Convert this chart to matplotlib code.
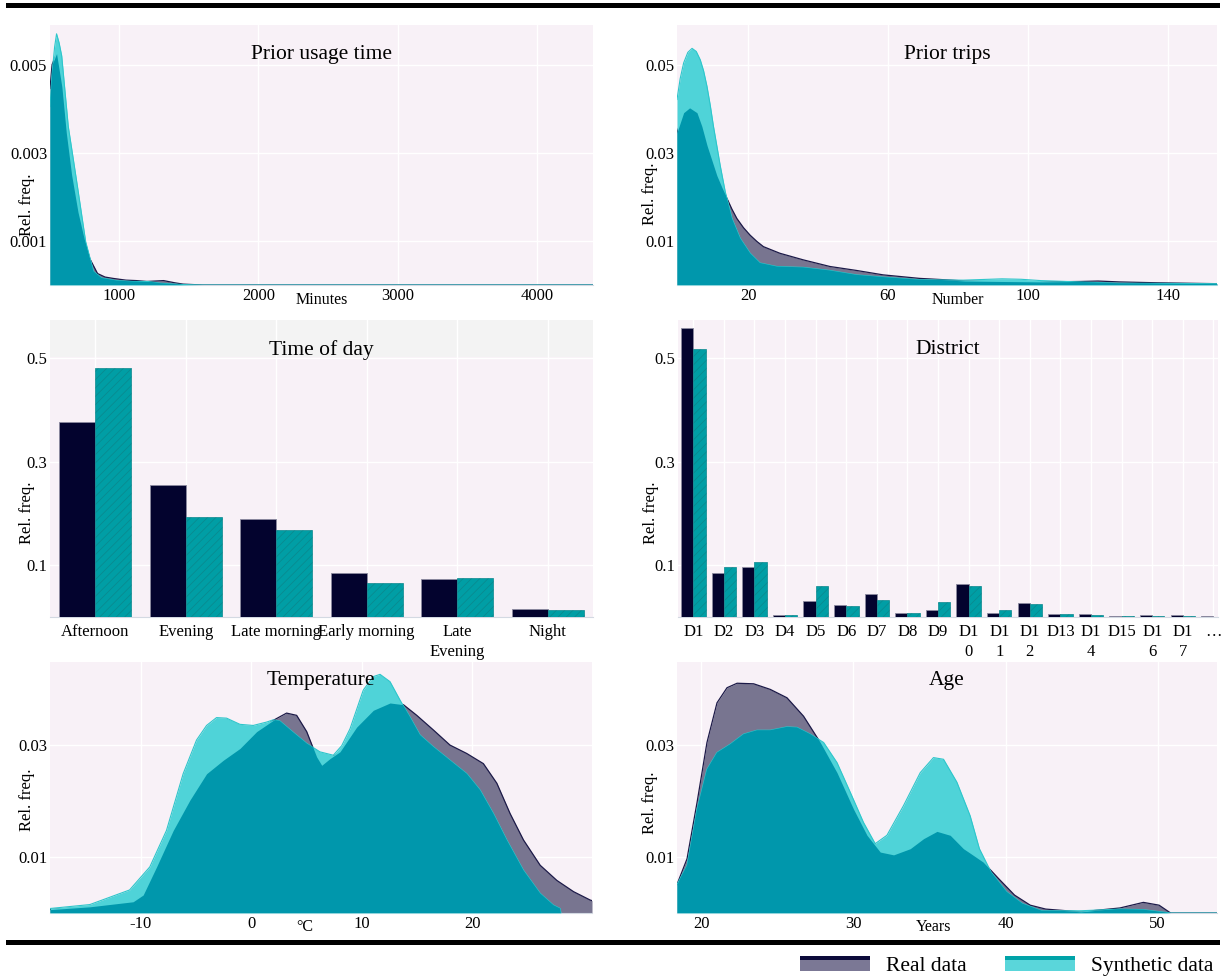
import numpy as np
import matplotlib
matplotlib.use("Agg")
import matplotlib.pyplot as plt
from matplotlib.patches import Patch, Rectangle
from matplotlib.legend_handler import HandlerBase
from matplotlib.lines import Line2D

plt.rcParams["font.family"] = ["Liberation Serif", "DejaVu Serif"]
plt.rcParams["hatch.linewidth"] = 0.5

# ---- prior usage time (minutes) ----
usage_x_real = [505, 520, 552, 590, 622, 660, 706, 750, 790, 846, 900, 957, 1050, 1124,
                1200, 1320, 1400, 1459, 1600, 4400]
usage_y_real = [0.00446, 0.0050, 0.00525, 0.0045, 0.00345, 0.0025, 0.00165, 0.00105, 0.0006,
                0.00026, 0.00018, 0.00015, 0.00011, 0.0001, 0.00008, 0.0001, 0.00005, 0.00002,
                0.0, 0.0]
usage_x_syn = [505, 520, 538, 552, 570, 589, 636, 670, 706, 761, 817, 874, 985, 1100, 1208,
               1300, 1459, 1600, 4400]
usage_y_syn = [0.00405, 0.0048, 0.0054, 0.0057, 0.0055, 0.0052, 0.0036, 0.0029, 0.00215,
               0.00098, 0.00031, 0.00016, 0.0001, 0.00008, 0.00008, 0.00004, 0.00001, 0.0, 0.0]

# ---- prior trips (number) ----
trips_x_real = [-0.3, 1.6, 3.3, 5.4, 6.8, 8.3, 9.7, 11.1, 12.5, 14.0, 15.4, 16.8, 18.7, 20.6,
                22.5, 24.4, 29.1, 35.8, 43.4, 51.0, 58.6, 69.0, 76.0, 82.0, 92.0, 104.0,
                115.0, 120.0, 126.0, 137.0, 154.0]
trips_y_real = [0.0346, 0.0391, 0.0402, 0.0391, 0.0360, 0.0316, 0.0282, 0.0248, 0.0222, 0.0196,
                0.0172, 0.0151, 0.0130, 0.0113, 0.0099, 0.0087, 0.0072, 0.0057, 0.0042, 0.0033,
                0.0023, 0.0015, 0.0012, 0.0009, 0.0008, 0.0007, 0.0008, 0.0009, 0.0007, 0.0005,
                0.0003]
trips_x_syn = [-0.3, 0.6, 1.6, 2.8, 4.0, 5.2, 6.35, 7.3, 8.26, 9.2, 10.1, 11.1, 12.05, 13.5,
               15.4, 17.75, 20.6, 23.4, 28.2, 35.8, 43.4, 51.0, 58.6, 69.0, 81.5, 92.6, 98.0,
               103.7, 114.8, 126.0, 154.0]
trips_y_syn = [0.0421, 0.0468, 0.0504, 0.0528, 0.0537, 0.0530, 0.0511, 0.0486, 0.0451, 0.0408,
               0.0361, 0.0315, 0.0271, 0.0211, 0.0151, 0.0106, 0.0072, 0.0050, 0.0042, 0.0040,
               0.0033, 0.0023, 0.0018, 0.0012, 0.0011, 0.0014, 0.0013, 0.0010, 0.0007, 0.0004,
               0.0003]

# ---- time of day ----
tod_labels = ["Afternoon", "Evening", "Late morning", "Early morning", "Late\nEvening", "Night"]
tod_real = [0.376, 0.255, 0.190, 0.086, 0.073, 0.015]
tod_syn = [0.482, 0.194, 0.169, 0.065, 0.075, 0.0135]

# ---- district ----
district_labels = ["D1", "D2", "D3", "D4", "D5", "D6", "D7", "D8", "D9", "D1\n0", "D1\n1",
                   "D1\n2", "D13", "D1\n4", "D15", "D1\n6", "D1\n7", "…"]
district_real = [0.558, 0.0857, 0.097, 0.004, 0.0316, 0.023, 0.045, 0.0077, 0.0141, 0.0638,
                 0.0077, 0.027, 0.0058, 0.006, 0.002, 0.003, 0.003, 0.001]
district_syn = [0.518, 0.097, 0.107, 0.003, 0.0606, 0.022, 0.032, 0.0077, 0.0283, 0.0593,
                0.0129, 0.025, 0.005, 0.004, 0.002, 0.002, 0.0025, 0.0]

# ---- temperature (°C) ----
temp_x_real = [-18.2, -14.6, -10.68, -9.77, -8.56, -7.05, -5.54, -4.03, -2.52, -1.01, 0.5,
               2.0, 3.21, 4.12, 5.03, 5.93, 6.39, 7.14, 8.04, 9.55, 11.06, 12.57, 13.78, 14.99,
               16.49, 18.0, 19.52, 21.02, 22.24, 23.44, 24.65, 26.16, 27.67, 29.18, 30.69,
               30.85]
temp_y_real = [0.0006, 0.0011, 0.0020, 0.0032, 0.0082, 0.0147, 0.0201, 0.0248, 0.0272, 0.0293,
               0.0323, 0.0343, 0.0356, 0.0352, 0.0323, 0.0278, 0.0263, 0.0275, 0.0287, 0.0331,
               0.0361, 0.0374, 0.0371, 0.0352, 0.0326, 0.0299, 0.0284, 0.0266, 0.0231, 0.0177,
               0.0130, 0.0085, 0.0058, 0.0038, 0.0023, 0.0022]
temp_x_syn = [-18.2, -14.6, -11.0, -9.17, -7.66, -6.15, -4.94, -4.03, -3.13, -2.22, -1.01,
              0.19, 1.4, 2.0, 2.6, 3.8, 5.03, 6.23, 7.44, 8.2, 8.95, 10.15, 11.06, 11.67, 12.57,
              13.48, 14.38, 15.29, 16.49, 18.0, 19.52, 20.72, 21.93, 23.14, 24.65, 26.16,
              27.36, 27.97, 28.03]
temp_y_syn = [0.0008, 0.0015, 0.0041, 0.0082, 0.0147, 0.0248, 0.0308, 0.0334, 0.0348, 0.0347,
              0.0336, 0.0334, 0.0340, 0.0344, 0.0342, 0.0322, 0.0302, 0.0287, 0.0281, 0.0298,
              0.0328, 0.0397, 0.0421, 0.0425, 0.0412, 0.0379, 0.0349, 0.0317, 0.0296, 0.0272,
              0.0248, 0.0219, 0.0177, 0.0130, 0.0076, 0.0035, 0.0014, 0.0008, 0.0]

# ---- age (years) ----
age_x_real = [18.4, 19.06, 19.72, 20.37, 21.03, 21.69, 22.35, 23.44, 24.53, 25.63, 26.72,
              27.82, 28.92, 30.0, 30.89, 31.76, 32.64, 33.73, 34.61, 35.49, 36.36, 37.23,
              37.67, 38.53, 39.56, 40.59, 41.62, 42.64, 44.95, 47.52, 49.06, 50.09, 50.85, 53.9]
age_y_real = [0.0051, 0.0097, 0.0198, 0.0305, 0.0376, 0.0403, 0.0411, 0.0410, 0.0400, 0.0385,
              0.0352, 0.0305, 0.0251, 0.0186, 0.0139, 0.0109, 0.0104, 0.0115, 0.0133, 0.0146,
              0.0139, 0.0115, 0.0107, 0.0091, 0.0061, 0.0032, 0.0014, 0.0007, 0.0002, 0.0009,
              0.0019, 0.0014, 0.0, 0.0]
age_x_syn = [18.4, 19.06, 19.72, 20.37, 21.03, 21.9, 22.78, 23.66, 24.53, 25.63, 26.29, 27.16,
             28.04, 28.92, 29.79, 30.66, 31.43, 32.2, 33.29, 34.39, 35.26, 35.92, 36.8, 37.67,
             38.28, 39.05, 40.07, 41.1, 42.38, 44.95, 47.52, 49.06, 50.85, 53.9]
age_y_syn = [0.0051, 0.0085, 0.0186, 0.0257, 0.0287, 0.0302, 0.0320, 0.0327, 0.0327, 0.0333,
             0.0332, 0.0320, 0.0305, 0.0269, 0.0216, 0.0162, 0.0124, 0.0139, 0.0192, 0.0251,
             0.0278, 0.0275, 0.0234, 0.0174, 0.0115, 0.0073, 0.0038, 0.0017, 0.0004, 0.0004,
             0.0007, 0.0006, 0.0, 0.0]

BG = "#f8f1f7"
REAL_FILL = "#787590"
REAL_EDGE = "#1c1a48"
SYN_FILL = "#4fd3d8"
SYN_EDGE = "#2ec6cb"
OVERLAP = "#0097ac"
NAVY_BAR = "#03032e"
TEAL_BAR = "#009ea5"

W, H = 1225, 980
fig = plt.figure(figsize=(W / 100, H / 100), dpi=100)


def px_axes(left, top, right, bottom):
    # axes placed by pixel box on the canvas
    return fig.add_axes([left / W, 1 - bottom / H, (right - left) / W, (bottom - top) / H])


def style(ax, title, title_y, xlabel, xlabel_x, ylabel_pos):
    ax.set_facecolor(BG)
    for side in ["top", "right", "left"]:
        ax.spines[side].set_visible(False)
    ax.spines["bottom"].set_color("#d3d9e2")
    ax.tick_params(length=0, labelsize=12, pad=2)
    ax.grid(True, color="white", lw=1.0, zorder=0)
    ax.set_axisbelow(True)
    ax.text(0.5, title_y, title, transform=ax.transAxes, ha="center", va="center",
            fontsize=15.5, zorder=10)
    if xlabel:
        ax.set_xlabel(xlabel, fontsize=11.5, va="top")
        ax.xaxis.set_label_coords(xlabel_x, -0.025)
    ax.set_ylabel("Rel. freq.", fontsize=12)
    ax.yaxis.set_label_coords(*ylabel_pos)


def density(ax, xr, yr, xs, ys):
    ax.fill_between(xr, yr, color=REAL_FILL, lw=0, zorder=2)
    ax.plot(xr, yr, color=REAL_EDGE, lw=0.9, zorder=2.1)
    syn = ax.fill_between(xs, ys, color=SYN_FILL, lw=0, zorder=3)
    ax.plot(xs, ys, color=SYN_EDGE, lw=0.8, zorder=3.1)
    # overlap of both densities, shown in the darker teal
    both = ax.fill_between(xr, yr, color=OVERLAP, lw=0, zorder=4)
    both.set_clip_path(syn.get_paths()[0], ax.transData)


def bars(ax, real, syn, labels):
    pos = np.arange(len(labels))
    ax.bar(pos - 0.2, real, width=0.4, color=NAVY_BAR, edgecolor="#8c8aa0", lw=0.6, zorder=3)
    ax.bar(pos + 0.2, syn, width=0.4, color=TEAL_BAR, edgecolor="#0b878d", lw=0.5,
           hatch="////", zorder=3)
    ax.set_xticks(pos)
    ax.set_xticklabels(labels, fontsize=12, linespacing=1.35, va="top")
    ax.set_xlim(-0.5, len(labels) - 0.5)
    ax.grid(False, axis="x")


# prior usage time
ax1 = px_axes(50, 25, 593, 285)
density(ax1, usage_x_real, usage_y_real, usage_x_syn, usage_y_syn)
ax1.set_xlim(505, 4400)
ax1.set_ylim(0, 0.0059)
ax1.set_yticks([0.001, 0.003, 0.005], ["0.001", "0.003", "0.005"])
ax1.set_xticks([1000, 2000, 3000, 4000], ["1000", "2000", "3000", "4000"])
style(ax1, "Prior usage time", 0.885, "Minutes", 0.5, (-0.028, 0.31))

# prior trips
ax2 = px_axes(677, 25, 1217, 285)
density(ax2, trips_x_real, trips_y_real, trips_x_syn, trips_y_syn)
ax2.set_xlim(-0.3, 154)
ax2.set_ylim(0, 0.059)
ax2.set_yticks([0.01, 0.03, 0.05], ["0.01", "0.03", "0.05"])
ax2.set_xticks([20, 60, 100, 140], ["20", "60", "100", "140"])
style(ax2, "Prior trips", 0.885, "Number", 0.52, (-0.035, 0.35))

# time of day
ax3 = px_axes(50, 320, 593, 617)
bars(ax3, tod_real, tod_syn, tod_labels)
ax3.set_ylim(0, 0.574)
ax3.axhspan(0.502, 0.574, color="#f3f3f3", zorder=0.5, lw=0)
ax3.set_yticks([0.1, 0.3, 0.5], ["0.1", "0.3", "0.5"])
style(ax3, "Time of day", 0.9, None, 0.5, (-0.028, 0.35))
ax3.tick_params(axis="x", pad=5)

# district
ax4 = px_axes(678, 320, 1218, 617)
bars(ax4, district_real, district_syn, district_labels)
ax4.set_xlim(-0.5, 17.15)
ax4.set_ylim(0, 0.574)
ax4.set_yticks([0.1, 0.3, 0.5], ["0.1", "0.3", "0.5"])
style(ax4, "District", 0.9, None, 0.5, (-0.035, 0.35))
ax4.tick_params(axis="x", pad=5)

# temperature
ax5 = px_axes(50, 662, 592, 913)
density(ax5, temp_x_real, temp_y_real, temp_x_syn, temp_y_syn)
ax5.set_xlim(-18.2, 30.85)
ax5.set_ylim(0, 0.0447)
ax5.set_yticks([0.01, 0.03], ["0.01", "0.03"])
ax5.set_xticks([-10, 0, 10, 20], ["-10", "0", "10", "20"])
style(ax5, "Temperature", 0.928, "°C", 0.47, (-0.028, 0.45))

# age
ax6 = px_axes(677, 662, 1217, 913)
density(ax6, age_x_real, age_y_real, age_x_syn, age_y_syn)
ax6.set_xlim(18.4, 53.9)
ax6.set_ylim(0, 0.0449)
ax6.set_yticks([0.01, 0.03], ["0.01", "0.03"])
ax6.set_xticks([20, 30, 40, 50], ["20", "30", "40", "50"])
style(ax6, "Age", 0.928, "Years", 0.475, (-0.035, 0.44))

# heavy rules above and below the panel grid
for y in (5, 942):
    fig.add_artist(Line2D([8 / W, 1217 / W], [1 - y / H, 1 - y / H],
                          transform=fig.transFigure, color="black", lw=3.6))


class StripHandler(HandlerBase):
    # legend key: thin dark strip over a lighter block
    def __init__(self, top, bottom):
        super().__init__()
        self.top = top
        self.bottom = bottom

    def create_artists(self, legend, orig_handle, xdescent, ydescent, width, height,
                       fontsize, trans):
        split = 0.72
        low = Rectangle((-xdescent, -ydescent), width, height * split,
                        facecolor=self.bottom, lw=0, transform=trans)
        high = Rectangle((-xdescent, -ydescent + height * split), width, height * (1 - split),
                         facecolor=self.top, lw=0, transform=trans)
        return [low, high]


real_handle = Patch(label="Real data")
syn_handle = Patch(label="Synthetic data")
fig.legend(handles=[real_handle, syn_handle], loc="center", bbox_to_anchor=(0.8217, 0.0143),
           ncol=2, frameon=False, fontsize=15.5, handlelength=3.25, handleheight=0.74,
           handletextpad=0.74, columnspacing=1.8,
           handler_map={real_handle: StripHandler("#0d0b3a", "#7b7895"),
                        syn_handle: StripHandler("#00a3a8", "#5ad6da")})

fig.savefig("out.png", dpi=100, facecolor="white")
